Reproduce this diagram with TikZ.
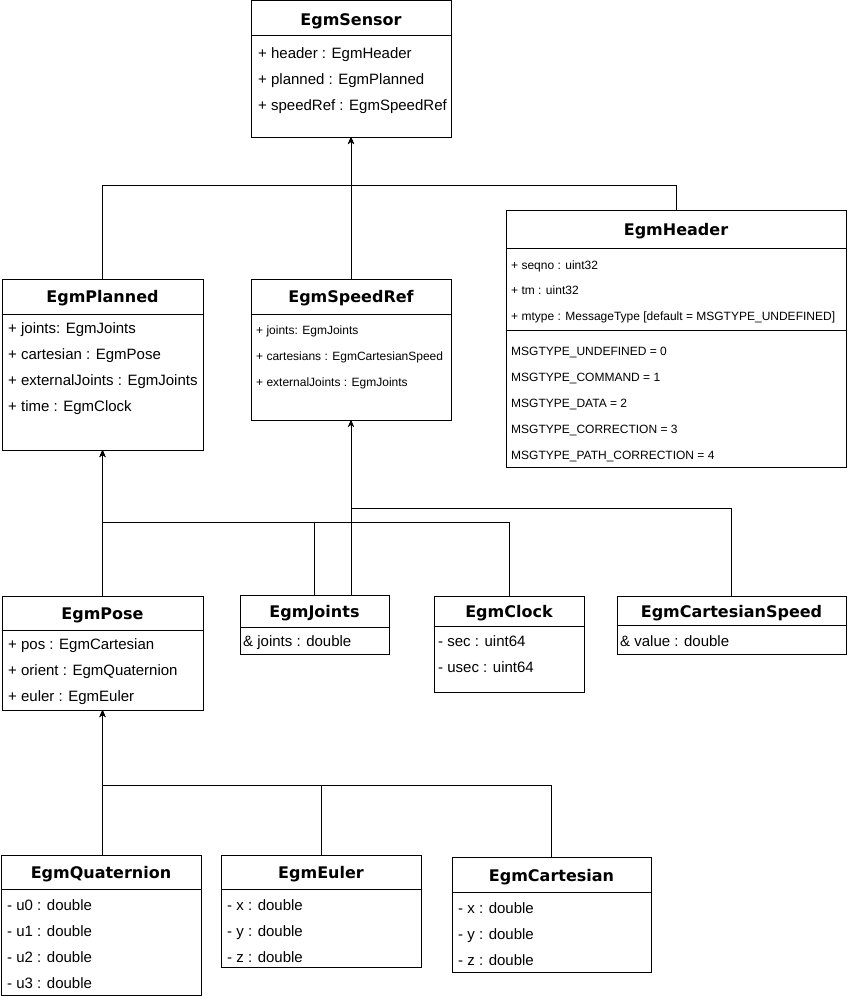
\documentclass[tikz,border=0pt]{standalone}
\usepackage{fontspec}
\setmainfont{Liberation Sans}
\newfontfamily\ttlfont{DejaVu Sans}
\usetikzlibrary{arrows.meta}
\tikzset{
  cls/.style={draw, line width=1pt, inner sep=0pt, outer sep=0pt},
  sepline/.style={line width=1pt},
  ttl/.style={font=\ttlfont\bfseries\fontsize{16}{18}\selectfont, inner sep=0pt, text height=0.73em, text depth=0pt, yshift=-2pt},
  attr/.style={anchor=west, font=\fontsize{15}{17}\selectfont, inner sep=0pt, text height=0.72em, text depth=0pt, yshift=-2.5pt},
  sattr/.style={attr, font=\fontsize{12}{14}\selectfont},
  arr/.style={line width=1pt, -{Stealth[length=7pt,width=6pt]}},
}
% name, x1, y1, x2, y2, separator y
\newcommand{\ubox}[6]{%
  \node[cls, minimum width={#4-#2}, minimum height={#5-#3}] (#1) at ({(#2+#4)/2},{(#3+#5)/2}) {};
  \draw[sepline] (#1.west |- 0,#6) -- (#1.east |- 0,#6);
}
\begin{document}
\begin{tikzpicture}[x=1pt,y=-1pt]
\useasboundingbox[fill=white] (0,0) rectangle (848,998);

% EgmSensor
\ubox{sensor}{251}{1}{451}{137}{36}
\node[ttl] (sensorT) at (351,19.5) {EgmSensor};
\node[attr] (sensorA1) at (258,52) {+ header : EgmHeader};
\node[attr] (sensorA2) at (258,78) {+ planned : EgmPlanned};
\node[attr] (sensorA3) at (258,104) {+ speedRef : EgmSpeedRef};

% EgmHeader
\ubox{header}{506}{210}{846}{467}{248}
\draw[sepline] (header.west |- 0,330) -- (header.east |- 0,330);
\node[ttl] (headerT) at (676,229.5) {EgmHeader};
\node[sattr] (headerA1) at (511,263) {+ seqno : uint32};
\node[sattr] (headerA2) at (511,288.5) {+ tm : uint32};
\node[sattr] (headerA3) at (511,314) {+ mtype : MessageType [default = MSGTYPE\_UNDEFINED]};
\node[sattr] (headerE0) at (511,349) {MSGTYPE\_UNDEFINED = 0};
\node[sattr] (headerE1) at (511,375) {MSGTYPE\_COMMAND = 1};
\node[sattr] (headerE2) at (511,401) {MSGTYPE\_DATA = 2};
\node[sattr] (headerE3) at (511,427) {MSGTYPE\_CORRECTION = 3};
\node[sattr] (headerE4) at (511,453) {MSGTYPE\_PATH\_CORRECTION = 4};

% EgmPlanned
\ubox{planned}{2}{279}{203}{450}{314}
\node[ttl] (plannedT) at (102.5,297) {EgmPlanned};
\node[attr] (plannedA1) at (8,327) {+ joints: EgmJoints};
\node[attr] (plannedA2) at (8,353) {+ cartesian : EgmPose};
\node[attr] (plannedA3) at (8,379) {+ externalJoints : EgmJoints};
\node[attr] (plannedA4) at (8,405) {+ time : EgmClock};

% EgmSpeedRef
\ubox{speedref}{251}{279}{451}{420}{314}
\node[ttl] (speedrefT) at (351,297) {EgmSpeedRef};
\node[sattr] (speedrefA1) at (256,328.5) {+ joints: EgmJoints};
\node[sattr] (speedrefA2) at (256,354.5) {+ cartesians : EgmCartesianSpeed};
\node[sattr] (speedrefA3) at (256,380.5) {+ externalJoints : EgmJoints};

% EgmPose
\ubox{pose}{2}{596}{203}{710}{630}
\node[ttl] (poseT) at (102.5,613.5) {EgmPose};
\node[attr] (poseA1) at (8,643) {+ pos : EgmCartesian};
\node[attr] (poseA2) at (8,669) {+ orient : EgmQuaternion};
\node[attr] (poseA3) at (8,695) {+ euler : EgmEuler};

% EgmJoints
\ubox{joints}{240}{595}{389}{654}{627}
\node[ttl] (jointsT) at (314.5,612) {EgmJoints};
\node[attr] (jointsA1) at (243,640) {\& joints : double};

% EgmClock
\ubox{clock}{434}{596}{584}{692}{626}
\node[ttl] (clockT) at (509,612) {EgmClock};
\node[attr] (clockA1) at (438,640) {- sec : uint64};
\node[attr] (clockA2) at (438,666) {- usec : uint64};

% EgmCartesianSpeed
\ubox{cspeed}{617}{596}{846}{654}{625}
\node[ttl] (cspeedT) at (731.5,612) {EgmCartesianSpeed};
\node[attr] (cspeedA1) at (620,640) {\& value : double};

% EgmQuaternion
\ubox{quat}{1}{855}{201}{995}{889}
\node[ttl] (quatT) at (101,873) {EgmQuaternion};
\node[attr] (quatA1) at (7,904) {- u0 : double};
\node[attr] (quatA2) at (7,930) {- u1 : double};
\node[attr] (quatA3) at (7,956) {- u2 : double};
\node[attr] (quatA4) at (7,982) {- u3 : double};

% EgmEuler
\ubox{euler}{221}{855}{421}{967}{889}
\node[ttl] (eulerT) at (321,873) {EgmEuler};
\node[attr] (eulerA1) at (227,904) {- x : double};
\node[attr] (eulerA2) at (227,930) {- y : double};
\node[attr] (eulerA3) at (227,956) {- z : double};

% EgmCartesian
\ubox{cart}{452}{857}{651}{972}{892}
\node[ttl] (cartT) at (551.5,875.5) {EgmCartesian};
\node[attr] (cartA1) at (458,907) {- x : double};
\node[attr] (cartA2) at (458,933) {- y : double};
\node[attr] (cartA3) at (458,959) {- z : double};

% junction points
\coordinate (j1) at (351,185);
\coordinate (j2) at (102.5,522);
\coordinate (j3) at (351,508);
\coordinate (j4) at (102.5,785);

% connectors
\draw[arr] (planned.north) |- (j1) -- (sensor.south);
\draw[arr] (speedref.north) -- (sensor.south);
\draw[arr] (header.north) |- (j1) -- (sensor.south);

\draw[arr] (pose.north) -- (planned.south);
\draw[arr] (joints.north) |- (j2) -- (planned.south);
\draw[arr] (clock.north) |- (j2) -- (planned.south);
\draw[arr] (joints.north -| speedref.south) -- (speedref.south);
\draw[arr] (cspeed.north) |- (j3) -- (speedref.south);

\draw[arr] (quat.north -| pose.south) -- (pose.south);
\draw[arr] (euler.north) |- (j4) -- (pose.south);
\draw[arr] (cart.north) |- (j4) -- (pose.south);
\end{tikzpicture}
\end{document}
